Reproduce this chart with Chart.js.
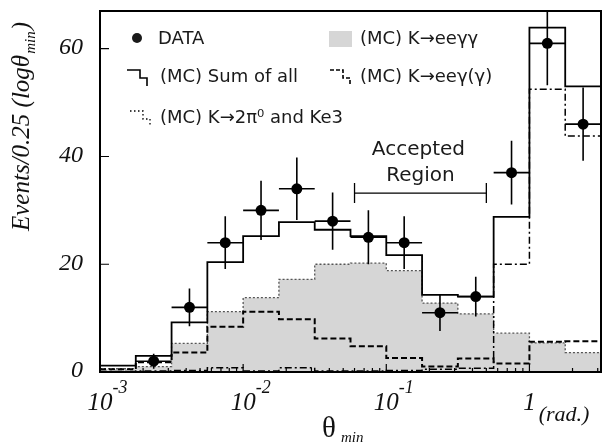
<!DOCTYPE html>
<html>
<head>
<meta charset="utf-8">
<script src="https://cdn.jsdelivr.net/npm/chart.js@4.4.1/dist/chart.umd.min.js"></script>
<style>
  body { margin: 0; background: #fff; }
  #wrap { width: 607px; height: 444px; }
</style>
</head>
<body>
<div id="wrap"><canvas id="graficoTheta"></canvas></div>
<script>
// ---------------- DADOS ----------------
// bin edges in log10(theta_min), 0.25 per bin
const binEdgesLog = [-3, -2.75, -2.5, -2.25, -2, -1.75, -1.5, -1.25, -1, -0.75, -0.5, -0.25, 0, 0.25, 0.5];

// data points (first bin has no entry)
const dataEvents = [null, 2, 12, 24, 30, 34, 28, 25, 24, 11, 14, 37, 61, 46];
const dataErrors = [null, 1.4, 3.5, 4.9, 5.5, 5.8, 5.3, 5.0, 4.9, 3.4, 3.7, 5.9, 7.8, 6.8];

// MC histograms
const mcSum    = [1.2, 3.0, 9.2, 20.4, 25.2, 27.8, 26.4, 25.2, 21.7, 14.3, 14.0, 28.8, 63.9, 53.0];
const mcEeGG   = [0.6, 1.0, 5.3, 11.2, 13.8, 17.2, 20.0, 20.2, 18.8, 12.8, 10.8, 7.2, 5.4, 3.6];
const mcEeG    = [0.5, 1.8, 3.6, 8.4, 11.2, 9.8, 6.2, 4.8, 2.6, 1.0, 2.5, 1.6, 5.6, 5.7];
const mcPi0Ke3 = [0.1, 0.2, 0.3, 0.8, 0.2, 0.8, 0.2, 0.2, 0.3, 0.5, 0.7, 20.0, 52.5, 43.8];

// axes
const yTicks = [0, 20, 40, 60];
const xTickValues = [0.001, 0.01, 0.1, 1];
const xTickBase = ['10', '10', '10', '1'];
const xTickExp = ['-3', '-2', '-1', ''];

// accepted region (rad.) and the height it is drawn at
const acceptedRange = [0.06, 0.5];
const acceptedLevel = 33.2;

const yMax = 67;

// ---------------- HELPERS ----------------
const edge = i => Math.pow(10, binEdgesLog[i]);
const binCenter = i => Math.pow(10, (binEdgesLog[i] + binEdgesLog[i + 1]) / 2);

function steps(vals) {
  const pts = vals.map((v, i) => ({ x: edge(i), y: v }));
  pts.push({ x: edge(vals.length), y: vals[vals.length - 1] });
  return pts;
}

const dataPoints = dataEvents
  .map((v, i) => (v == null ? null : { x: binCenter(i), y: v }))
  .filter(p => p);

const SERIF = '"Liberation Serif", "Times New Roman", serif';
const SANS = '"DejaVu Sans", sans-serif';

// ---------------- DECORAÇÃO ----------------
const decor = {
  id: 'decor',
  afterDatasetsDraw(chart) {
    const { ctx, chartArea: a, scales: { x, y } } = chart;

    // error bars + accepted region, clipped to the frame
    ctx.save();
    ctx.beginPath();
    ctx.rect(a.left, a.top, a.right - a.left, a.bottom - a.top);
    ctx.clip();
    ctx.strokeStyle = '#000';
    ctx.lineWidth = 1.6;
    dataEvents.forEach((v, i) => {
      if (v == null) return;
      const xc = x.getPixelForValue(binCenter(i));
      const yc = y.getPixelForValue(v);
      ctx.beginPath();
      ctx.moveTo(xc, y.getPixelForValue(v - dataErrors[i]));
      ctx.lineTo(xc, y.getPixelForValue(v + dataErrors[i]));
      ctx.moveTo(x.getPixelForValue(edge(i)), yc);
      ctx.lineTo(x.getPixelForValue(edge(i + 1)), yc);
      ctx.stroke();
    });

    const x1 = x.getPixelForValue(acceptedRange[0]);
    const x2 = x.getPixelForValue(acceptedRange[1]);
    const ya = y.getPixelForValue(acceptedLevel);
    ctx.lineWidth = 1.3;
    ctx.beginPath();
    ctx.moveTo(x1, ya); ctx.lineTo(x2, ya);
    ctx.moveTo(x1, ya - 10); ctx.lineTo(x1, ya + 10);
    ctx.moveTo(x2, ya - 10); ctx.lineTo(x2, ya + 10);
    ctx.stroke();
    ctx.fillStyle = '#1a1a1a';
    ctx.font = '20px ' + SANS;
    ctx.textAlign = 'center';
    ctx.textBaseline = 'middle';
    const xm = (x1 + x2) / 2;
    ctx.fillText('Accepted', xm - 2, ya - 43);
    ctx.fillText('Region', xm, ya - 17);
    ctx.restore();

    // frame
    ctx.save();
    ctx.strokeStyle = '#000';
    ctx.lineWidth = 2;
    ctx.strokeRect(a.left, a.top, a.right - a.left, a.bottom - a.top);

    // inward ticks
    ctx.lineWidth = 1.2;
    ctx.beginPath();
    for (let k = -3; k <= 0; k++) {
      for (let m = 1; m <= 9; m++) {
        const v = m * Math.pow(10, k);
        if (v > x.max) break;
        const px = x.getPixelForValue(v);
        ctx.moveTo(px, a.bottom);
        ctx.lineTo(px, a.bottom - (m === 1 ? 8 : 4));
      }
    }
    yTicks.forEach(t => {
      const py = y.getPixelForValue(t);
      ctx.moveTo(a.left, py);
      ctx.lineTo(a.left + 9, py);
    });
    ctx.stroke();

    // y tick labels
    ctx.fillStyle = '#111';
    ctx.font = 'italic 24px ' + SERIF;
    ctx.textAlign = 'right';
    ctx.textBaseline = 'middle';
    yTicks.forEach(t => ctx.fillText(String(t), 83, y.getPixelForValue(t) - 1));

    // x tick labels
    ctx.textBaseline = 'alphabetic';
    xTickValues.forEach((v, i) => {
      const px = x.getPixelForValue(v);
      ctx.font = 'italic 25px ' + SERIF;
      ctx.textAlign = 'center';
      ctx.fillText(xTickBase[i], px, 410);
      const w = ctx.measureText(xTickBase[i]).width;
      ctx.textAlign = 'left';
      if (xTickExp[i]) {
        ctx.font = 'italic 18px ' + SERIF;
        ctx.fillText(xTickExp[i], px + w / 2, 393);
      } else {
        ctx.font = 'italic 22px ' + SERIF;
        ctx.fillText('(rad.)', px + w / 2 + 3, 421);
      }
    });

    // x title
    ctx.font = '29px ' + SERIF;
    ctx.textAlign = 'left';
    ctx.fillText('\u03b8', 322, 437);
    ctx.font = 'italic 15px ' + SERIF;
    ctx.fillText('min', 341, 442);

    // y title (rotated)
    ctx.save();
    ctx.translate(29, 231);
    ctx.rotate(-Math.PI / 2);
    ctx.textAlign = 'left';
    ctx.font = 'italic 25px ' + SERIF;
    const yt = 'Events/0.25 (log\u03b8';
    ctx.fillText(yt, 0, 0);
    let wy = ctx.measureText(yt).width;
    ctx.font = 'italic 15px ' + SERIF;
    ctx.fillText('min', wy + 1, 6);
    wy += ctx.measureText('min').width + 2;
    ctx.font = 'italic 25px ' + SERIF;
    ctx.fillText(')', wy, 0);
    ctx.restore();

    // legend
    ctx.font = '18px ' + SANS;
    ctx.textAlign = 'left';
    ctx.textBaseline = 'middle';
    ctx.fillStyle = '#1a1a1a';

    ctx.beginPath();
    ctx.arc(137, 38, 5, 0, Math.PI * 2);
    ctx.fill();
    ctx.fillText('DATA', 158, 39);

    ctx.fillStyle = '#d6d6d6';
    ctx.fillRect(329, 31, 23, 16);
    ctx.fillStyle = '#1a1a1a';
    ctx.fillText('(MC) K\u2192ee\u03b3\u03b3', 360, 39);

    ctx.fillText('(MC) Sum of all', 160, 77);
    ctx.fillText('(MC) K\u2192ee\u03b3(\u03b3)', 360, 77);
    ctx.fillText('(MC) K\u21922\u03c0\u2070 and Ke3', 160, 118);

    const stepSym = (x0, y0, dash, lw) => {
      ctx.setLineDash(dash);
      ctx.lineWidth = lw;
      ctx.beginPath();
      ctx.moveTo(x0, y0);
      ctx.lineTo(x0 + 13, y0);
      ctx.lineTo(x0 + 13, y0 + 8);
      ctx.lineTo(x0 + 20, y0 + 8);
      ctx.lineTo(x0 + 20, y0 + 16);
      ctx.stroke();
    };
    stepSym(127, 70, [], 1.6);
    stepSym(330, 70, [4, 2], 1.6);
    stepSym(130, 111, [1.5, 2.5], 1.3);
    ctx.setLineDash([]);
    ctx.restore();
  }
};

// ---------------- GRÁFICO ----------------
new Chart(
  document.getElementById('graficoTheta'),
  {
    type: 'line',

    data: {
      datasets: [
        {
          label: 'DATA',
          data: dataPoints,
          showLine: false,
          pointRadius: 5.5,
          pointBackgroundColor: '#000',
          pointBorderWidth: 0,
          order: 0
        },
        {
          label: '(MC) Sum of all',
          data: steps(mcSum),
          stepped: 'before',
          borderColor: '#000',
          borderWidth: 1.8,
          pointRadius: 0,
          fill: false,
          order: 1
        },
        {
          label: '(MC) K -> ee gamma (gamma)',
          data: steps(mcEeG),
          stepped: 'before',
          borderColor: '#000',
          borderWidth: 2,
          borderDash: [6, 3],
          pointRadius: 0,
          fill: false,
          order: 2
        },
        {
          label: '(MC) K -> 2pi0 and Ke3',
          data: steps(mcPi0Ke3),
          stepped: 'before',
          borderColor: '#000',
          borderWidth: 1.5,
          borderDash: [7, 3, 2, 3],
          pointRadius: 0,
          fill: false,
          order: 3
        },
        {
          label: '(MC) K -> ee gamma gamma',
          data: steps(mcEeGG),
          stepped: 'before',
          borderColor: '#555',
          borderWidth: 1.3,
          borderDash: [2, 2],
          backgroundColor: '#d6d6d6',
          fill: 'origin',
          pointRadius: 0,
          order: 4
        }
      ]
    },

    options: {
      responsive: true,
      maintainAspectRatio: false,
      animation: false,
      events: [],
      layout: { padding: { left: 100, right: 6, top: 11, bottom: 72 } },
      plugins: {
        legend: { display: false },
        tooltip: { enabled: false }
      },
      scales: {
        x: { type: 'logarithmic', min: 0.001, max: Math.pow(10, 0.5), display: false },
        y: { min: 0, max: yMax, display: false }
      }
    },

    plugins: [decor]
  }
);
</script>
</body>
</html>
